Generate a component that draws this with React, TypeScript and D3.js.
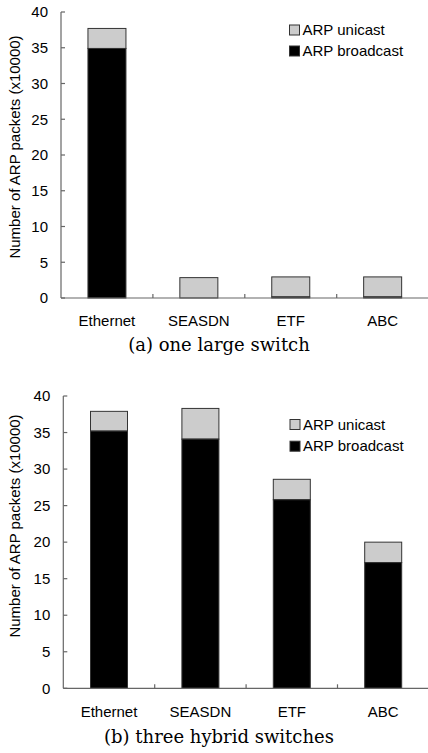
import React from "react";
import * as d3 from "d3";

const categories = ["Ethernet", "SEASDN", "ETF", "ABC"];
const broadcastA = [34.9, 0, 0.15, 0.15];
const unicastA = [2.8, 2.85, 2.8, 2.8];
const broadcastB = [35.2, 34.1, 25.8, 17.2];
const unicastB = [2.7, 4.2, 2.8, 2.8];
const yTicks = [0, 5, 10, 15, 20, 25, 30, 35, 40];
const seriesNames = ["ARP unicast", "ARP broadcast"];
const captions = ["(a) one large switch", "(b) three hybrid switches"];
const yTitle = "Number of ARP packets (x10000)";

const SANS = "'Liberation Sans', Arial, sans-serif";
const SERIF = "'DejaVu Serif', serif";
const AXIS = "#666";
const UNI = "#cccccc";
const BRD = "#000000";

type PanelProps = {
  broadcast: number[];
  unicast: number[];
  x0: number;
  x1: number;
  yBottom: number;
  yTop: number;
  barW: number;
  titleX: number;
  titleY: number;
  legendX: number;
  legendY: number;
  legendStep: number;
  catY: number;
  caption: string;
  captionY: number;
};

function Panel(p: PanelProps) {
  const x = d3.scaleBand<string>().domain(categories).range([p.x0, p.x1]).padding(0);
  const y = d3.scaleLinear().domain([0, 40]).range([p.yBottom, p.yTop]);
  const step = x.step();
  return (
    <g>
      {/* bars */}
      {categories.map((c, i) => {
        const cx = (x(c) as number) + step / 2;
        const b = p.broadcast[i];
        const u = p.unicast[i];
        return (
          <g key={c}>
            <rect x={cx - p.barW / 2} y={y(b + u)} width={p.barW} height={y(b) - y(b + u)} fill={UNI} stroke="#333" strokeWidth={1} />
            {b > 0 && (
              <rect x={cx - p.barW / 2} y={y(b)} width={p.barW} height={y(0) - y(b)} fill={BRD} stroke="#333" strokeWidth={1} />
            )}
            <text x={cx} y={p.catY} textAnchor="middle" fontFamily={SANS} fontSize={15} fill="#000">
              {c}
            </text>
          </g>
        );
      })}
      {/* y axis */}
      <line x1={p.x0} x2={p.x0} y1={y(0)} y2={y(40)} stroke={AXIS} strokeWidth={1.2} />
      {yTicks.map((t) => (
        <g key={t}>
          <line x1={p.x0} x2={p.x0 + 4} y1={y(t)} y2={y(t)} stroke={AXIS} strokeWidth={1.2} />
          <text x={p.x0 - 13} y={y(t)} dy="0.35em" textAnchor="end" fontFamily={SANS} fontSize={15} fill="#000">
            {t}
          </text>
        </g>
      ))}
      {/* x axis */}
      <line x1={p.x0} x2={p.x1} y1={y(0)} y2={y(0)} stroke={AXIS} strokeWidth={1.2} />
      {categories.slice(1).map((c) => (
        <line key={c} x1={x(c) as number} x2={x(c) as number} y1={y(0)} y2={y(0) - 4} stroke={AXIS} strokeWidth={1.2} />
      ))}
      {/* y title */}
      <text
        transform={`translate(${p.titleX},${p.titleY}) rotate(-90)`}
        textAnchor="middle"
        fontFamily={SANS}
        fontSize={15}
        fill="#000"
      >
        {yTitle}
      </text>
      {/* legend */}
      {seriesNames.map((s, i) => (
        <g key={s}>
          <rect x={p.legendX} y={p.legendY + i * p.legendStep - 10} width={10} height={10} fill={i === 0 ? UNI : BRD} stroke="#333" strokeWidth={1} />
          <text x={p.legendX + 13} y={p.legendY + i * p.legendStep} fontFamily={SANS} fontSize={15} fill="#000">
            {s}
          </text>
        </g>
      ))}
      <text x={219} y={p.captionY} textAnchor="middle" fontFamily={SERIF} fontSize={18} fill="#000">
        {p.caption}
      </text>
    </g>
  );
}

export default function App() {
  return (
    <svg width={428} height={753} style={{ position: "absolute", left: 0, top: 0, background: "#fff" }}>
      <Panel
        broadcast={broadcastA}
        unicast={unicastA}
        x0={61}
        x1={428.6}
        yBottom={298}
        yTop={12}
        barW={38}
        titleX={20}
        titleY={147}
        legendX={289.5}
        legendY={35}
        legendStep={21}
        catY={325.5}
        caption={captions[0]}
        captionY={350.5}
      />
      <Panel
        broadcast={broadcastB}
        unicast={unicastB}
        x0={63.3}
        x1={428.9}
        yBottom={688.3}
        yTop={396}
        barW={37}
        titleX={20}
        titleY={526}
        legendX={290}
        legendY={429.5}
        legendStep={21.7}
        catY={716.5}
        caption={captions[1]}
        captionY={743}
      />
    </svg>
  );
}
